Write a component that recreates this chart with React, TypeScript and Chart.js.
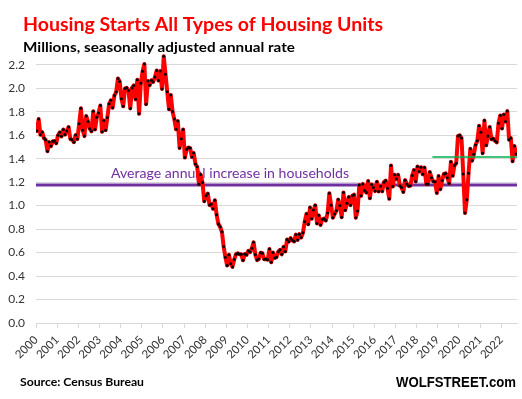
import React, { useEffect, useRef } from "react";
import { Chart, registerables } from "chart.js";

Chart.register(...registerables);

// Housing starts, all types, thousands of units, SAAR (monthly, Jan 2000 - Sep 2022)
const yearLabels = [2000, 2001, 2002, 2003, 2004, 2005, 2006, 2007, 2008, 2009, 2010, 2011, 2012, 2013, 2014, 2015, 2016, 2017, 2018, 2019, 2020, 2021, 2022];
const s2000 = [1636, 1737, 1604, 1626, 1575, 1559, 1463, 1541, 1507, 1549, 1551, 1532];
const s2001 = [1600, 1625, 1590, 1649, 1605, 1636, 1670, 1567, 1562, 1540, 1602, 1568];
const s2002 = [1698, 1829, 1642, 1592, 1764, 1717, 1655, 1633, 1804, 1648, 1753, 1788];
const s2003 = [1853, 1629, 1726, 1643, 1751, 1867, 1897, 1833, 1939, 1967, 2083, 2057];
const s2004 = [1911, 1846, 1998, 2003, 1981, 1828, 2002, 2024, 1905, 2072, 1782, 2042];
const s2005 = [2144, 2207, 1864, 2061, 2025, 2068, 2054, 2095, 2151, 2065, 2147, 1994];
const s2006 = [2273, 2119, 1969, 1821, 1942, 1802, 1737, 1650, 1720, 1491, 1570, 1649];
const s2007 = [1409, 1480, 1495, 1490, 1415, 1448, 1354, 1330, 1183, 1264, 1197, 1037];
const s2008 = [1084, 1103, 1005, 1013, 973, 1046, 923, 844, 820, 777, 652, 560];
const s2009 = [490, 582, 505, 478, 540, 585, 594, 586, 585, 534, 588, 581];
const s2010 = [614, 604, 636, 687, 583, 536, 546, 599, 594, 543, 545, 539];
const s2011 = [630, 517, 600, 554, 561, 608, 623, 585, 650, 610, 711, 694];
const s2012 = [723, 704, 695, 753, 708, 757, 728, 768, 863, 930, 841, 983];
const s2013 = [888, 962, 1003, 847, 917, 835, 883, 889, 873, 936, 1105, 1003];
const s2014 = [897, 928, 957, 1051, 1000, 901, 1112, 961, 1020, 1074, 1004, 1083];
const s2015 = [1093, 897, 955, 1175, 1083, 1184, 1128, 1111, 1209, 1062, 1179, 1155];
const s2016 = [1124, 1203, 1121, 1165, 1122, 1200, 1213, 1148, 1058, 1342, 1162, 1262];
const s2017 = [1226, 1263, 1170, 1155, 1116, 1217, 1185, 1166, 1169, 1256, 1303, 1206];
const s2018 = [1333, 1290, 1327, 1267, 1324, 1184, 1183, 1286, 1237, 1205, 1204, 1108];
const s2019 = [1253, 1140, 1213, 1270, 1275, 1237, 1188, 1374, 1254, 1342, 1361, 1594];
const s2020 = [1599, 1575, 1269, 938, 1050, 1276, 1484, 1383, 1438, 1517, 1552, 1680];
const s2021 = [1625, 1447, 1725, 1514, 1594, 1670, 1565, 1571, 1553, 1539, 1702, 1768];
const s2022 = [1657, 1777, 1716, 1805, 1562, 1575, 1377, 1508, 1439];
const startsByYear = [s2000, s2001, s2002, s2003, s2004, s2005, s2006, s2007, s2008, s2009, s2010, s2011, s2012, s2013, s2014, s2015, s2016, s2017, s2018, s2019, s2020, s2021, s2022];

const householdAvg = 1.176; // millions
const recentLevel = 1.415; // millions
const recentLevelStart = 2018.75;

const titleText = "Housing Starts All Types of Housing Units";
const subtitleText = "Millions, seasonally adjusted annual rate";
const avgLabel = "Average annual increase in households";
const sourceText = "Source: Census Bureau";
const brandText = "WOLFSTREET.com";

function fitText(ctx: CanvasRenderingContext2D, text: string, x: number, baseline: number, width: number, font: string, color: string) {
  ctx.save();
  ctx.font = font;
  ctx.fillStyle = color;
  ctx.textAlign = "left";
  ctx.textBaseline = "alphabetic";
  const w = ctx.measureText(text).width;
  ctx.translate(x, baseline);
  ctx.scale(width / w, 1);
  ctx.fillText(text, 0, 0);
  ctx.restore();
}

export default function App() {
  const ref = useRef<HTMLCanvasElement>(null);

  useEffect(() => {
    if (!ref.current) return;
    const points: { x: number; y: number }[] = [];
    startsByYear.forEach((arr, yi) => {
      arr.forEach((v, m) => {
        points.push({ x: yearLabels[yi] + (m + 0.5) / 12, y: v / 1000 });
      });
    });
    const xMin = yearLabels[0];
    const xMax = yearLabels[0] + points.length / 12;

    const textPlugin = {
      id: "texts",
      beforeDatasetsDraw(chart: any) {
        fitText(chart.ctx, avgLabel, 111, 178.3, 238, '14px Lato', "#7030A0");
      },
      afterDraw(chart: any) {
        const ctx = chart.ctx;
        fitText(ctx, titleText, 23, 30.5, 360, 'bold 18px Lato', "#FF0000");
        fitText(ctx, subtitleText, 23, 52, 272, 'bold 14px Lato', "#000000");
        fitText(ctx, sourceText, 20, 386, 124, 'bold 10.5px Lato', "#000000");
        fitText(ctx, brandText, 396, 386.5, 120, 'bold 14px "Liberation Sans"', "#000000");
      },
    };

    const chart = new Chart(ref.current, {
      type: "line",
      data: {
        datasets: [
          {
            data: [
              { x: recentLevelStart, y: recentLevel },
              { x: xMax, y: recentLevel },
            ],
            borderColor: "#00B050",
            borderWidth: 1.5,
            pointRadius: 0,
            order: 0,
          },
          {
            data: points,
            borderColor: "#FF0000",
            borderWidth: 4,
            borderJoinStyle: "round",
            borderCapStyle: "round",
            pointRadius: 1.5,
            pointBorderWidth: 0,
            pointBackgroundColor: "#000000",
            tension: 0,
            order: 1,
          },
          {
            data: [
              { x: xMin, y: householdAvg },
              { x: xMax, y: householdAvg },
            ],
            borderColor: "#7030A0",
            borderWidth: 3,
            pointRadius: 0,
            order: 2,
          },
        ],
      },
      options: {
        animation: false,
        responsive: false,
        devicePixelRatio: 1,
        layout: { padding: { left: 0, right: 5, top: 53, bottom: 0 } },
        plugins: {
          legend: { display: false },
          tooltip: { enabled: false },
          title: { display: false },
        },
        scales: {
          x: {
            type: "linear",
            min: xMin,
            max: xMax,
            afterFit: (s: any) => {
              s.height = 76;
            },
            grid: { drawOnChartArea: false, drawTicks: true, tickLength: 5, color: "#d9d9d9" },
            border: { display: true, color: "#d9d9d9" },
            ticks: {
              stepSize: 1,
              includeBounds: false,
              autoSkip: false,
              maxTicksLimit: 40,
              maxRotation: 45,
              minRotation: 45,
              padding: 5,
              color: "#333333",
              font: { family: "Lato", size: 11.5 },
              callback: (v: any) => String(v),
            },
          },
          y: {
            min: 0,
            max: 2.3,
            afterFit: (s: any) => {
              s.width = 36;
            },
            grid: { color: "#d9d9d9", drawTicks: false },
            border: { display: false },
            ticks: {
              stepSize: 0.2,
              includeBounds: false,
              padding: 11,
              color: "#333333",
              font: { family: "Lato", size: 12 },
              callback: (v: any) => Number(v).toFixed(1),
            },
          },
        },
      },
      plugins: [textPlugin],
    } as any);

    return () => chart.destroy();
  }, []);

  return (
    <div style={{ position: "fixed", left: 0, top: 0, width: 522, height: 399, background: "#ffffff" }}>
      <canvas ref={ref} width={522} height={399} style={{ display: "block" }} />
    </div>
  );
}
